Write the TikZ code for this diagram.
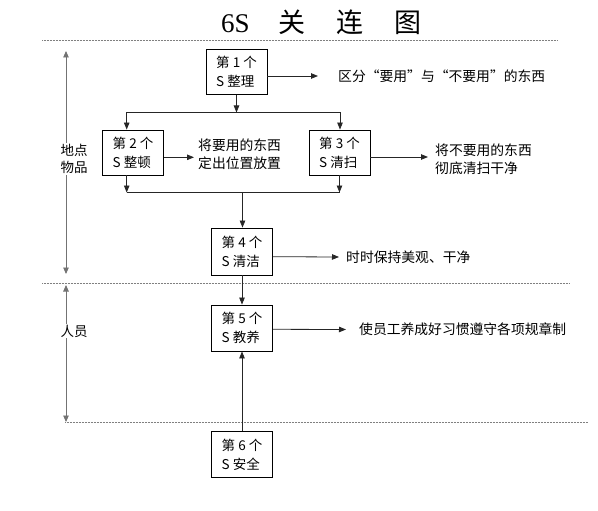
\documentclass[tikz,border=0pt]{standalone}
\usepackage{fontspec}
\setmainfont{Liberation Serif}
\newfontfamily\cjk{Noto Sans CJK SC}
\usetikzlibrary{arrows.meta,calc}
\tikzset{
  box/.style={draw=black, line width=0.9pt, minimum width=61pt, minimum height=45pt, inner sep=0pt, align=left, font=\cjk\fontsize{13.5}{19}\selectfont},
  desc/.style={anchor=west, inner sep=0pt, align=left, font=\cjk\fontsize{13.8}{17.7}\selectfont},
  side/.style={fill=white, inner sep=1pt, align=left, font=\cjk\fontsize{13.5}{17.7}\selectfont},
  conn/.style={draw=black!85, line width=0.8pt},
  arr/.style={conn, -{Triangle[length=7pt,width=5.5pt]}},
  dim/.style={draw=black!55, line width=0.9pt, {Triangle[length=6.5pt,width=5.5pt]}-{Triangle[length=6.5pt,width=5.5pt]}},
  sep/.style={draw=black!50, line width=0.5pt, densely dotted}
}
\begin{document}
\begin{tikzpicture}[x=1pt,y=-1pt]
\useasboundingbox (0,0) rectangle (598,511);
% title
\node[anchor=base west, inner sep=0pt, font=\fontsize{27}{30}\selectfont] (title) at (221,33) {6S\hspace{29pt}{\cjk 关\hspace{31pt}连\hspace{31pt}图}};
% separators
\coordinate (s1a) at (42,40.5); \coordinate (s1b) at (558,40.5);
\coordinate (s2a) at (42,283.5); \coordinate (s2b) at (570,283.5);
\coordinate (s3a) at (65,422.7); \coordinate (s3b) at (588,422.7);
\draw[sep] (s1a) -- (s1b);
\draw[sep] (s2a) -- (s2b);
\draw[sep] (s3a) -- (s3b);
% left dimension arrows
\coordinate (lt) at (66,51); \coordinate (lb) at (66,274);
\coordinate (pt) at (66,285); \coordinate (pb) at (66,422);
\draw[dim] (lt) -- (lb);
\draw[dim] (pt) -- (pb);
\node[side] (lab1) at (74,159) {地点\\物品};
\node[side] (lab2) at (74,331) {人员};
% boxes
\node[box] (b1) at (236.5,71.8) {第 1 个\\S 整理};
\node[box] (b2) at (133,152.5) {第 2 个\\S 整顿};
\node[box] (b3) at (339.5,152.5) {第 3 个\\S 清扫};
\node[box, minimum height=47pt] (b4) at (242,251.5) {第 4 个\\S 清洁};
\node[box, minimum height=46pt] (b5) at (242,328) {第 5 个\\S 教养};
\node[box, minimum height=46pt] (b6) at (242,454.5) {第 6 个\\S 安全};
% descriptions
\node[desc] (t1) at (338,76) {区分“要用”与“不要用”的东西};
\node[desc] (t2) at (198,154) {将要用的东西\\定出位置放置};
\node[desc] (t3) at (435,159) {将不要用的东西\\彻底清扫干净};
\node[desc] (t4) at (346,257) {时时保持美观、干净};
\node[desc] (t5) at (359,329.5) {使员工养成好习惯遵守各项规章制};
% branch
\coordinate (bl) at (126.7,112.5); \coordinate (br) at (340,112.5);
\draw[arr] (b1.south) -- (b1.south |- bl);
\draw[conn] (bl) -- (br);
\draw[arr] (bl) -- (bl |- b2.north);
\draw[arr] (br) -- (br |- b3.north);
% merge
\coordinate (ml) at (126.7,192.5); \coordinate (mr) at (339.5,192.5);
\coordinate (mm) at (242.5,192.5);
\draw[arr] (bl |- b2.south) -- (ml);
\draw[arr] (mr |- b3.south) -- (mr);
\draw[conn] (ml) -- (mr);
\draw[arr] (mm) -- (mm |- b4.north);
\draw[arr] (b4) -- (b5);
\draw[arr] (b6) -- (b5);
% to descriptions
\draw[arr] (b1.east |- 0,76) -- ($(t1.west)+(-20,0)$);
\draw[arr] (b2.east |- 0,157.3) -- (194,157.3);
\draw[arr] (b3.east |- 0,157) -- (428,157);
\draw[arr] (b4.east |- 0,256.7) -- ($(t4.west)+(-7,0)$);
\draw[arr] (b5.east |- 0,329.3) -- ($(t5.west)+(-13,0)$);
\end{tikzpicture}
\end{document}
